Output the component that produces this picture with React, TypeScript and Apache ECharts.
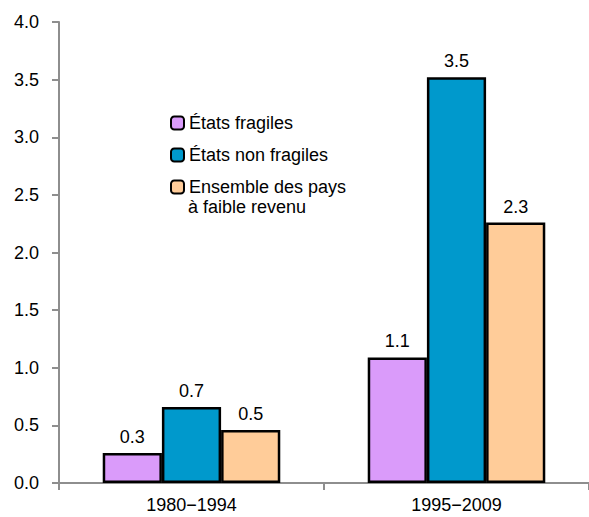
import React, { useEffect, useRef } from "react";
import * as echarts from "echarts";

const categories = ["1980\u22121994", "1995\u22122009"];
const seriesNames = ["États fragiles", "États non fragiles", "Ensemble des pays à faible revenu"];
const fragiles = [0.26, 1.09];
const nonFragiles = [0.66, 3.52];
const ensemble = [0.46, 2.26];
const colors = ["#DA9BFA", "#0099CC", "#FFCC99"];

const FONT = "'Liberation Sans', Arial, sans-serif";

export default function App() {
  const ref = useRef<HTMLDivElement>(null);
  useEffect(() => {
    if (!ref.current) return;
    const chart = echarts.init(ref.current, null, { renderer: "svg" });
    const data = [fragiles, nonFragiles, ensemble];
    chart.setOption({
      animation: false,
      textStyle: { fontFamily: FONT },
      grid: { left: 59, right: 0, top: 22, bottom: 34, containLabel: false },
      legend: {
        orient: "vertical",
        left: 165,
        top: 108,
        itemWidth: 13,
        itemHeight: 13,
        itemGap: 12,
        itemTextGap: 5,
        selectedMode: false,
        data: seriesNames,
        formatter: (name: string) => (name.startsWith("Ensemble") ? "Ensemble des pays" : name),
        itemStyle: { borderColor: "#000", borderWidth: 2 },
        textStyle: { fontSize: 18, color: "#000", fontFamily: FONT, lineHeight: 20 },
      },
      graphic: [
        {
          type: "text",
          left: 188,
          top: 198,
          style: { text: "à faible revenu", fontSize: 18, fill: "#000", fontFamily: FONT },
        },
      ],
      xAxis: {
        type: "category",
        data: categories,
        axisLine: { lineStyle: { color: "#8E8E8E", width: 2 } },
        axisTick: { show: true, length: 7, lineStyle: { color: "#8E8E8E", width: 2 } },
        axisLabel: { fontSize: 18, color: "#000", margin: 13, fontFamily: FONT },
      },
      yAxis: {
        type: "value",
        min: 0,
        max: 4,
        interval: 0.5,
        splitLine: { show: false },
        axisLine: { show: true, lineStyle: { color: "#8E8E8E", width: 2 } },
        axisTick: { show: true, length: 7, lineStyle: { color: "#8E8E8E", width: 2 } },
        axisLabel: {
          fontSize: 18,
          color: "#000",
          margin: 20,
          fontFamily: FONT,
          formatter: (v: number) => v.toFixed(1),
        },
      },
      series: seriesNames.map((name, i) => ({
        name,
        type: "bar",
        data: data[i],
        barGap: "0%",
        barCategoryGap: "33%",
        itemStyle: { color: colors[i], borderColor: "#000", borderWidth: 2.5 },
        label: {
          show: true,
          position: "top",
          distance: 7,
          fontSize: 18,
          color: "#000",
          fontFamily: FONT,
          formatter: (p: any) => Number(p.value).toFixed(1),
        },
      })),
    });
    return () => chart.dispose();
  }, []);
  return (
    <div
      ref={ref}
      style={{ position: "fixed", left: 0, top: 0, width: 589, height: 517, background: "#fff" }}
    />
  );
}
